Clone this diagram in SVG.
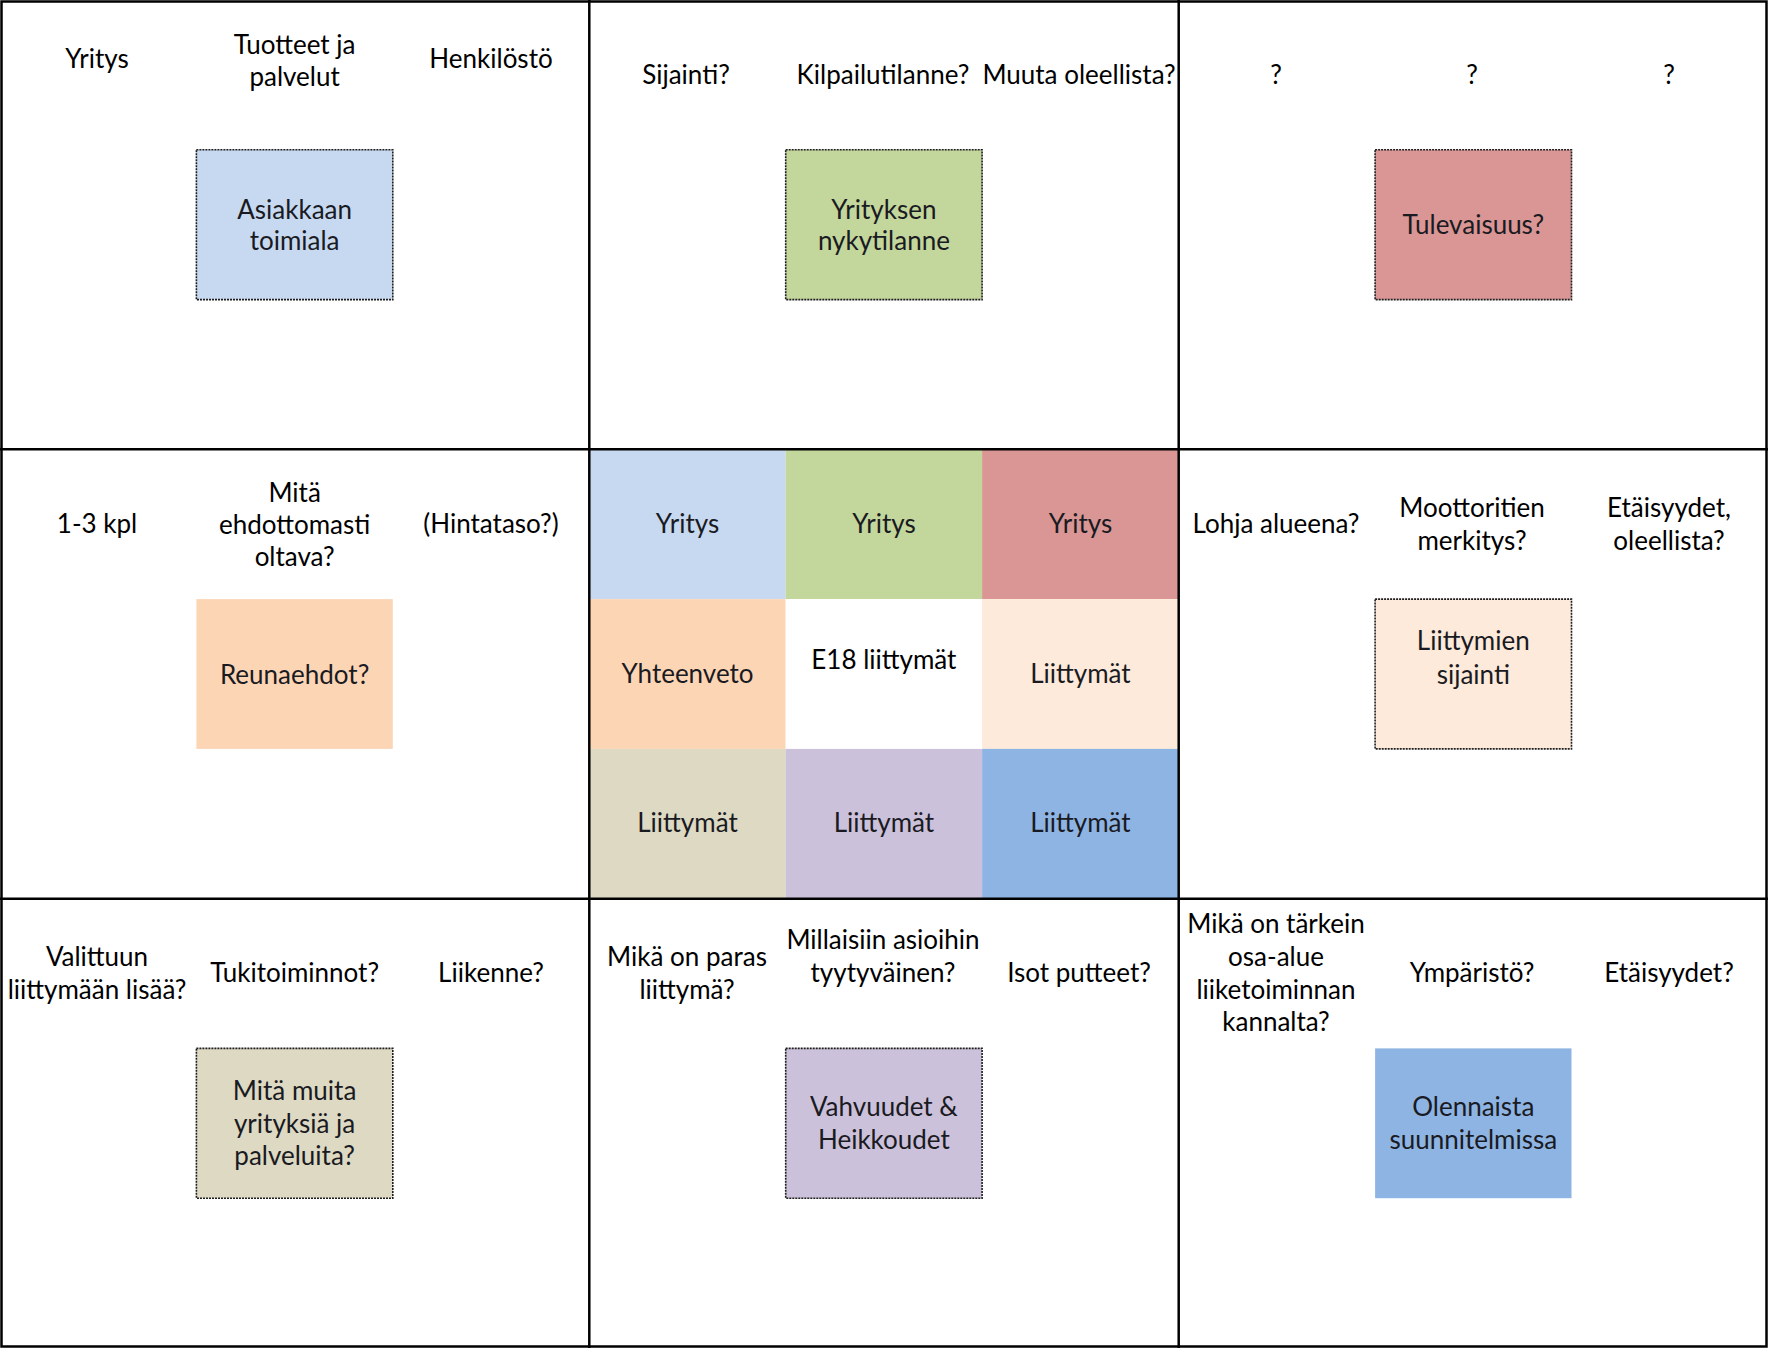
<svg xmlns="http://www.w3.org/2000/svg" width="1768" height="1348" viewBox="0 0 1768 1348">
<style>
  text { font-family: Lato, "Noto Sans", "Liberation Sans", sans-serif; font-size: 26px; text-anchor: middle; fill: #000; }
  .bt { fill: #1a1a22; }
  .box { stroke: #1e1e1e; stroke-width: 1.6; stroke-dasharray: 2 1; }
  .nob { stroke: none; }
  .sec { stroke: #000; stroke-width: 2.5; fill: none; }
</style>
<rect x="0" y="0" width="1768" height="1348" fill="#fff"/>

<!-- central grid -->
<g id="center-grid">
  <rect x="589.3" y="449.3" width="196.4" height="149.8" fill="#C6D9F1"/>
  <rect x="785.7" y="449.3" width="196.4" height="149.8" fill="#C3D69B"/>
  <rect x="982.1" y="449.3" width="196.6" height="149.8" fill="#D99694"/>
  <rect x="589.3" y="599.1" width="196.4" height="149.8" fill="#FCD5B5"/>
  <rect x="785.7" y="599.1" width="196.4" height="149.8" fill="#FFFFFF"/>
  <rect x="982.1" y="599.1" width="196.6" height="149.8" fill="#FDEADA"/>
  <rect x="589.3" y="748.9" width="196.4" height="149.8" fill="#DDD9C3"/>
  <rect x="785.7" y="748.9" width="196.4" height="149.8" fill="#CCC1DA"/>
  <rect x="982.1" y="748.9" width="196.6" height="149.8" fill="#8EB4E3"/>
  <text class="bt" x="687.5" y="533">Yritys</text>
  <text class="bt" x="883.9" y="533">Yritys</text>
  <text class="bt" x="1080.4" y="533">Yritys</text>
  <text class="bt" x="687.5" y="683">Yhteenveto</text>
  <text x="883.9" y="669">E18 liittymät</text>
  <text class="bt" x="1080.4" y="683">Liittymät</text>
  <text class="bt" x="687.5" y="832">Liittymät</text>
  <text class="bt" x="883.9" y="832">Liittymät</text>
  <text class="bt" x="1080.4" y="832">Liittymät</text>
</g>

<!-- section frames -->
<g id="frames">
  <rect class="sec" x="1.5" y="1.5" width="1765" height="1345"/>
  <line class="sec" x1="589.3" y1="0" x2="589.3" y2="1348"/>
  <line class="sec" x1="1178.7" y1="0" x2="1178.7" y2="1348"/>
  <line class="sec" x1="0" y1="449.3" x2="1768" y2="449.3"/>
  <line class="sec" x1="0" y1="898.7" x2="1768" y2="898.7"/>
</g>

<!-- top-left -->
<g id="asiakkaan-toimiala">
  <rect class="box" x="196.4" y="149.8" width="196.4" height="149.8" fill="#C6D9F1"/>
  <text class="bt" x="294.6" y="219">Asiakkaan</text>
  <text class="bt" x="294.6" y="250">toimiala</text>
</g>
<g id="labels-top-left">
  <text x="97" y="68">Yritys</text>
  <text x="294.6" y="54">Tuotteet ja</text>
  <text x="294.6" y="86">palvelut</text>
  <text x="491" y="68">Henkilöstö</text>
</g>

<!-- top-middle -->
<g id="yrityksen-nykytilanne">
  <rect class="box" x="785.7" y="149.8" width="196.4" height="149.8" fill="#C3D69B"/>
  <text class="bt" x="883.9" y="219">Yrityksen</text>
  <text class="bt" x="883.9" y="250">nykytilanne</text>
</g>
<g id="labels-top-middle">
  <text x="686" y="84">Sijainti?</text>
  <text x="883" y="84">Kilpailutilanne?</text>
  <text x="1079" y="84">Muuta oleellista?</text>
</g>

<!-- top-right -->
<g id="tulevaisuus">
  <rect class="box" x="1375.1" y="149.8" width="196.4" height="149.8" fill="#D99694"/>
  <text class="bt" x="1473.3" y="234">Tulevaisuus?</text>
</g>
<g id="labels-top-right">
  <text x="1276" y="84">?</text>
  <text x="1472" y="84">?</text>
  <text x="1669" y="84">?</text>
</g>

<!-- middle-left -->
<g id="reunaehdot">
  <rect class="nob" x="196.4" y="599.1" width="196.4" height="149.8" fill="#FCD5B5"/>
  <text class="bt" x="294.6" y="684">Reunaehdot?</text>
</g>
<g id="labels-middle-left">
  <text x="97" y="533">1-3 kpl</text>
  <text x="294.6" y="502">Mitä</text>
  <text x="294.6" y="534">ehdottomasti</text>
  <text x="294.6" y="566">oltava?</text>
  <text x="491" y="533">(Hintataso?)</text>
</g>

<!-- middle-right -->
<g id="liittymien-sijainti">
  <rect class="box" x="1375.1" y="599.1" width="196.4" height="149.8" fill="#FDEADA"/>
  <text class="bt" x="1473.3" y="650">Liittymien</text>
  <text class="bt" x="1473.3" y="684">sijainti</text>
</g>
<g id="labels-middle-right">
  <text x="1276" y="533">Lohja alueena?</text>
  <text x="1472" y="517">Moottoritien</text>
  <text x="1472" y="550">merkitys?</text>
  <text x="1669" y="517">Etäisyydet,</text>
  <text x="1669" y="550">oleellista?</text>
</g>

<!-- bottom-left -->
<g id="mita-muita">
  <rect class="box" x="196.4" y="1048.4" width="196.4" height="149.8" fill="#DDD9C3"/>
  <text class="bt" x="294.6" y="1100">Mitä muita</text>
  <text class="bt" x="294.6" y="1133">yrityksiä ja</text>
  <text class="bt" x="294.6" y="1165">palveluita?</text>
</g>
<g id="labels-bottom-left">
  <text x="97" y="966">Valittuun</text>
  <text x="97" y="999">liittymään lisää?</text>
  <text x="294.6" y="982">Tukitoiminnot?</text>
  <text x="491" y="982">Liikenne?</text>
</g>

<!-- bottom-middle -->
<g id="vahvuudet">
  <rect class="box" x="785.7" y="1048.4" width="196.4" height="149.8" fill="#CCC1DA"/>
  <text class="bt" x="883.9" y="1116">Vahvuudet &amp;</text>
  <text class="bt" x="883.9" y="1149">Heikkoudet</text>
</g>
<g id="labels-bottom-middle">
  <text x="687" y="966">Mikä on paras</text>
  <text x="687" y="999">liittymä?</text>
  <text x="883" y="949">Millaisiin asioihin</text>
  <text x="883" y="982">tyytyväinen?</text>
  <text x="1079" y="982">Isot putteet?</text>
</g>

<!-- bottom-right -->
<g id="olennaista">
  <rect class="nob" x="1375.1" y="1048.4" width="196.4" height="149.8" fill="#8EB4E3"/>
  <text class="bt" x="1473.3" y="1116">Olennaista</text>
  <text class="bt" x="1473.3" y="1149">suunnitelmissa</text>
</g>
<g id="labels-bottom-right">
  <text x="1276" y="933">Mikä on tärkein</text>
  <text x="1276" y="966">osa-alue</text>
  <text x="1276" y="999">liiketoiminnan</text>
  <text x="1276" y="1031">kannalta?</text>
  <text x="1472" y="982">Ympäristö?</text>
  <text x="1669" y="982">Etäisyydet?</text>
</g>
<g id="connectors"></g>
</svg>
